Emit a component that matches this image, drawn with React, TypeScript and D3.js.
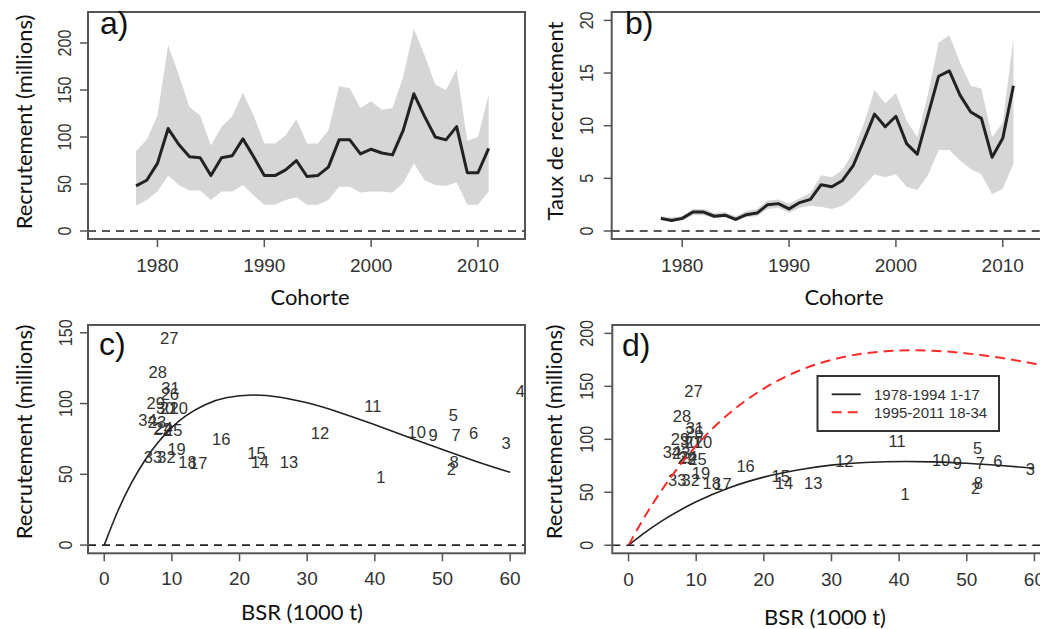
import React from 'react';
import * as d3 from 'd3';

// ---------- DATA ----------
const years = [1978,1979,1980,1981,1982,1983,1984,1985,1986,1987,1988,1989,1990,1991,1992,1993,1994,1995,1996,1997,1998,1999,2000,2001,2002,2003,2004,2005,2006,2007,2008,2009,2010,2011];
const recruitMid = [48,54,72,109,92,79,78,59,78,80,98,79,59,59,65,75,58,59,68,97,97,82,87,83,81,107,146,122,100,97,111,62,62,88];
const recruitUpper = [85,97,123,198,166,132,123,91,111,122,147,123,93,93,102,119,93,93,107,154,152,131,138,129,131,164,215,187,156,150,172,96,100,145];
const recruitLower = [27,33,42,59,49,43,43,33,42,42,49,38,28,28,33,36,28,28,33,47,47,41,42,42,41,51,72,54,49,48,52,28,28,42];
const rateMid = [1.2,1.0,1.2,1.8,1.8,1.4,1.5,1.1,1.55,1.7,2.5,2.6,2.1,2.7,3.0,4.4,4.2,4.8,6.2,8.6,11.1,9.9,10.9,8.3,7.3,11.0,14.7,15.2,12.9,11.3,10.7,7.0,8.8,13.8];
const rateUpper = [1.4,1.3,1.4,2.1,2.1,1.7,1.8,1.4,1.9,2.1,2.9,3.0,2.6,3.1,3.6,5.3,5.1,5.8,7.5,10.2,13.4,12.1,13.1,10.5,8.9,13.0,17.9,18.6,16.0,13.8,13.5,8.9,10.3,18.3];
const rateLower = [1.0,0.9,1.0,1.5,1.5,1.2,1.3,0.9,1.3,1.4,2.1,2.2,1.7,2.2,2.4,2.3,2.1,2.4,3.2,4.3,5.4,5.1,5.4,4.2,3.9,5.3,7.7,7.7,6.7,5.9,5.4,3.5,4.0,6.4];
const bsr = [40.9,51.3,59.4,61.5,51.6,54.6,52.0,51.7,48.6,46.2,39.7,31.9,27.3,23.0,22.5,17.3,13.9,12.3,10.7,11.0,9.6,8.6,7.8,8.8,10.2,9.7,9.6,7.9,7.6,9.0,9.8,9.2,7.2,6.4];
const pointLabels = ['1','2','3','4','5','6','7','8','9','10','11','12','13','14','15','16','17','18','19','20','21','22','23','24','25','26','27','28','29','30','31','32','33','34'];

// fitted stock-recruitment curves
const curveAllS = [0,2,4,6,8,10,12,15,18,22,26,30,35,40,45,50,55,60];
const curveAllR = [0,23.9,43.7,59.8,72.8,83.2,91.1,99.4,104.1,106.0,104.5,100.5,93.4,85.0,76.2,67.5,59.1,51.4];
const curveEarlyS = [0,2,5,10,15,20,25,30,35,41,45,50,55,60];
const curveEarlyR = [0,10.0,23.2,41.0,54.5,64.3,71.1,75.6,78.1,79.0,78.7,77.4,75.3,72.7];
const curveLateS = [0,2,5,10,15,20,25,30,35,42,45,50,55,60,62];
const curveLateR = [0,22.7,52.9,93.9,125.0,147.9,164.2,174.9,181.2,184.0,183.6,181.1,176.9,171.3,168.7];

const yearTicks = [1980,1990,2000,2010];
const bsrTicks = [0,10,20,30,40,50,60];
const recruitTicksA = [0,50,100,150,200];
const rateTicks = [0,5,10,15,20];
const recruitTicksC = [0,50,100,150];
const recruitTicksD = [0,50,100,150,200];
const legendLabels = ['1978-1994 1-17', '1995-2011 18-34'];

// ---------- STYLE ----------
const TICK_FONT = "'Liberation Sans', Arial, sans-serif";
const TITLE_FONT = "Lato, 'Open Sans', sans-serif";
const FRAME = '#555';
const TXT = '#333';

type PanelProps = {
  id: string;
  left: number; right: number; top: number; bottom: number;
  xDomain: [number, number]; yDomain: [number, number];
  xTicks: number[]; yTicks: number[];
  yLabelX: number; xLabelY: number;
  xTitle: string; xTitleX: number; xTitleY: number;
  yTitle: string; yTitleX: number; yTitleY: number;
  tag: string; tagX: number; tagY: number;
  children: (x: d3.ScaleLinear<number, number>, y: d3.ScaleLinear<number, number>) => React.ReactNode;
};

function Panel(p: PanelProps) {
  const x = d3.scaleLinear().domain(p.xDomain).range([p.left, p.right]);
  const y = d3.scaleLinear().domain(p.yDomain).range([p.bottom, p.top]);
  const clipId = 'clip-' + p.id;
  return (
    <g>
      <defs>
        <clipPath id={clipId}>
          <rect x={p.left} y={p.top} width={p.right - p.left} height={p.bottom - p.top} />
        </clipPath>
      </defs>
      <g clipPath={`url(#${clipId})`}>
        {p.children(x, y)}
        <line x1={p.left} x2={p.right} y1={y(0)} y2={y(0)} stroke="#222" strokeWidth={1.6} strokeDasharray="8,6" />
      </g>
      <rect x={p.left} y={p.top} width={p.right - p.left} height={p.bottom - p.top} fill="none" stroke={FRAME} strokeWidth={2} />
      {p.xTicks.map(t => (
        <g key={'xt' + t}>
          <line x1={x(t)} x2={x(t)} y1={p.bottom} y2={p.bottom + 8} stroke={FRAME} strokeWidth={1.5} />
          <text x={x(t)} y={p.xLabelY} textAnchor="middle" fontFamily={TICK_FONT} fontSize={19} fill={TXT}>{t}</text>
        </g>
      ))}
      {p.yTicks.map(t => (
        <g key={'yt' + t}>
          <line x1={p.left - 8} x2={p.left} y1={y(t)} y2={y(t)} stroke={FRAME} strokeWidth={1.5} />
          <text transform={`translate(${p.yLabelX},${y(t)}) rotate(-90) scale(0.87,1)`} textAnchor="middle" fontFamily={TICK_FONT} fontSize={18.5} fill={TXT}>{t}</text>
        </g>
      ))}
      <text x={p.xTitleX} y={p.xTitleY} textAnchor="middle" fontFamily={TITLE_FONT} fontSize={22} fill="#111">{p.xTitle}</text>
      <text transform={`translate(${p.yTitleX},${p.yTitleY}) rotate(-90)`} textAnchor="middle" fontFamily={TITLE_FONT} fontSize={22} fill="#111">{p.yTitle}</text>
      <text x={p.tagX} y={p.tagY} fontFamily={TICK_FONT} fontSize={32} fill="#111">{p.tag}</text>
    </g>
  );
}

function bandAndLine(x: d3.ScaleLinear<number, number>, y: d3.ScaleLinear<number, number>, lo: number[], hi: number[], mid: number[]) {
  const area = d3.area<number>().x((_, i) => x(years[i])).y0((_, i) => y(lo[i])).y1((_, i) => y(hi[i]));
  const line = d3.line<number>().x((_, i) => x(years[i])).y(d => y(d));
  return (
    <g>
      <path d={area(years) || ''} fill="#d6d6d6" stroke="none" />
      <path d={line(mid) || ''} fill="none" stroke="#222" strokeWidth={3} strokeLinejoin="round" />
    </g>
  );
}

function scatterLabels(x: d3.ScaleLinear<number, number>, y: d3.ScaleLinear<number, number>) {
  return pointLabels.map((lab, i) => (
    <text key={lab} x={x(bsr[i])} y={y(recruitMid[i])} dy="0.36em" textAnchor="middle" fontFamily={TICK_FONT} fontSize={16.5} fill={TXT}>{lab}</text>
  ));
}

function curvePath(x: d3.ScaleLinear<number, number>, y: d3.ScaleLinear<number, number>, S: number[], R: number[]) {
  const line = d3.line<number>().x(d => x(d)).y((_, i) => y(R[i])).curve(d3.curveMonotoneX);
  return line(S) || '';
}

export default function App() {
  return (
    <svg width={1040} height={629} viewBox="0 0 1040 629" style={{ position: 'absolute', left: 0, top: 0, background: '#fff' }}>
      <rect x={0} y={0} width={1040} height={629} fill="#fff" />
      <Panel id="a" left={88} right={525} top={12} bottom={239}
        xDomain={[1973.5, 2014.4]} yDomain={[-8.5, 233]}
        xTicks={yearTicks} yTicks={recruitTicksA}
        yLabelX={70.5} xLabelY={271.5}
        xTitle="Cohorte" xTitleX={310} xTitleY={305}
        yTitle="Recrutement (millions)" yTitleX={32} yTitleY={122}
        tag="a)" tagX={100} tagY={34}>
        {(x, y) => bandAndLine(x, y, recruitLower, recruitUpper, recruitMid)}
      </Panel>
      <Panel id="b" left={611.7} right={1048.7} top={12} bottom={239}
        xDomain={[1973.4, 2014.3]} yDomain={[-0.76, 20.8]}
        xTicks={yearTicks} yTicks={rateTicks}
        yLabelX={593} xLabelY={271.5}
        xTitle="Cohorte" xTitleX={844} xTitleY={305}
        yTitle="Taux de recrutement" yTitleX={563} yTitleY={121}
        tag="b)" tagX={625} tagY={34}>
        {(x, y) => bandAndLine(x, y, rateLower, rateUpper, rateMid)}
      </Panel>
      <Panel id="c" left={88} right={525} top={325} bottom={553.3}
        xDomain={[-2.4, 62.2]} yDomain={[-5.8, 155.5]}
        xTicks={bsrTicks} yTicks={recruitTicksC}
        yLabelX={71.5} xLabelY={585}
        xTitle="BSR (1000 t)" xTitleX={302} xTitleY={620}
        yTitle="Recrutement (millions)" yTitleX={32} yTitleY={432}
        tag="c)" tagX={99} tagY={355}>
        {(x, y) => (
          <g>
            {scatterLabels(x, y)}
            <path d={curvePath(x, y, curveAllS, curveAllR)} fill="none" stroke="#222" strokeWidth={1.6} />
          </g>
        )}
      </Panel>
      <Panel id="d" left={612.3} right={1049.3} top={325} bottom={553.3}
        xDomain={[-2.4, 62.2]} yDomain={[-7.6, 207.9]}
        xTicks={bsrTicks} yTicks={recruitTicksD}
        yLabelX={593} xLabelY={586}
        xTitle="BSR (1000 t)" xTitleX={825} xTitleY={625}
        yTitle="Recrutement (millions)" yTitleX={562} yTitleY={432}
        tag="d)" tagX={622} tagY={356}>
        {(x, y) => (
          <g>
            {scatterLabels(x, y)}
            <path d={curvePath(x, y, curveEarlyS, curveEarlyR)} fill="none" stroke="#222" strokeWidth={1.6} />
            <path d={curvePath(x, y, curveLateS, curveLateR)} fill="none" stroke="#ff2a2a" strokeWidth={2} strokeDasharray="10,6" />
          </g>
        )}
      </Panel>
      {/* legend in panel d */}
      <g>
        <rect x={817.5} y={376} width={181.5} height={55} fill="#fff" stroke="#333" strokeWidth={2} />
        <line x1={831.7} x2={860.7} y1={394.3} y2={394.3} stroke="#222" strokeWidth={1.8} />
        <line x1={831.7} x2={860.7} y1={412.3} y2={412.3} stroke="#ff2a2a" strokeWidth={2} strokeDasharray="10,6" />
        {legendLabels.map((l, i) => (
          <text key={l} x={874} y={400 + i * 18.2} fontFamily={TICK_FONT} fontSize={15} fill={TXT}>{l}</text>
        ))}
      </g>
    </svg>
  );
}
